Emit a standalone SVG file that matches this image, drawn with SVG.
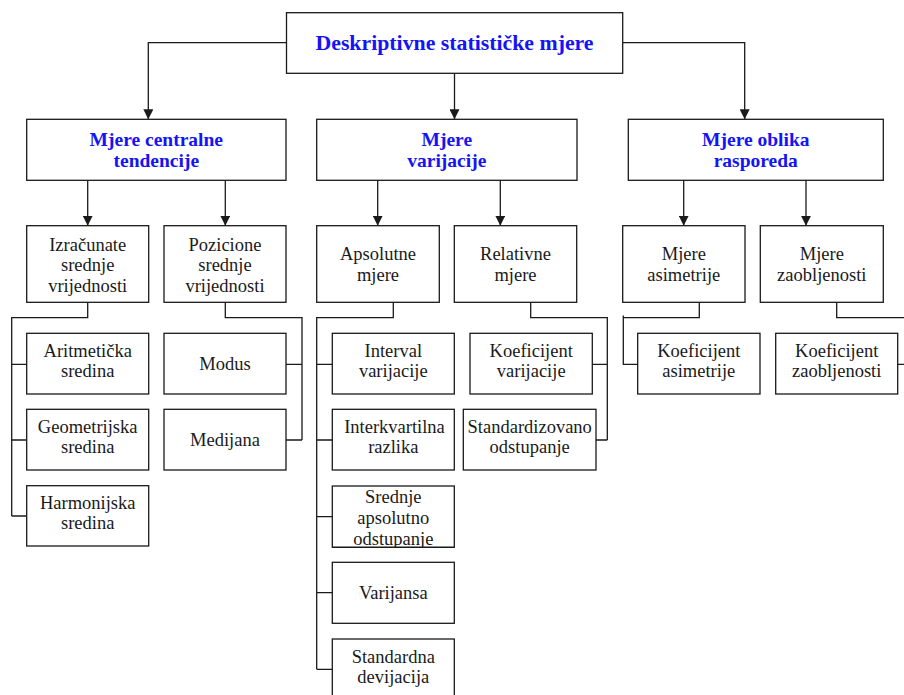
<svg xmlns="http://www.w3.org/2000/svg" width="904" height="695" viewBox="0 0 904 695">
<defs>
<style>
.b{fill:#fff;stroke:#1a1a1a;stroke-width:1.3}
.c{fill:none;stroke:#1a1a1a;stroke-width:1.3}
.h{font-family:"Liberation Serif","Times New Roman",serif;font-weight:bold;fill:#1414f5;text-anchor:middle}
.t{font-family:"Liberation Serif","Times New Roman",serif;font-size:18.5px;fill:#1a1a1a;text-anchor:middle}
</style>
<marker id="ar" viewBox="0 0 10 10" refX="10" refY="5" markerWidth="10" markerHeight="10" markerUnits="userSpaceOnUse" orient="auto">
<path d="M0,0 L10,5 L0,10 z" fill="#1a1a1a"/>
</marker>
<clipPath id="cs"><rect x="332" y="486" width="122.5" height="61"/></clipPath>
</defs>
<rect width="904" height="695" fill="#fff"/>
<g id="connectors">
<path class="c" d="M286.5,42.7 H148.3 V119.3" marker-end="url(#ar)"/>
<path class="c" d="M454.5,73.3 V119.3" marker-end="url(#ar)"/>
<path class="c" d="M622.7,42.7 H744.7 V119.3" marker-end="url(#ar)"/>
<path class="c" d="M87.7,180.3 V225.7" marker-end="url(#ar)"/>
<path class="c" d="M225.3,180.3 V225.7" marker-end="url(#ar)"/>
<path class="c" d="M377.7,180.3 V225.7" marker-end="url(#ar)"/>
<path class="c" d="M500.3,180.3 V225.7" marker-end="url(#ar)"/>
<path class="c" d="M683.7,180.3 V225.7" marker-end="url(#ar)"/>
<path class="c" d="M806,180.3 V225.7" marker-end="url(#ar)"/>
<path class="c" d="M87.7,302.3 V317.7 H11.7 V516 M11.7,364.3 H26.7 M11.7,440 H26.7 M11.7,516 H26.7"/>
<path class="c" d="M225.3,302.3 V317.7 H302 V440 M302,364.3 H286 M302,440 H286"/>
<path class="c" d="M393.3,302.3 V317.7 H316.7 V669.3 M316.7,364.3 H332.3 M316.7,440 H332.3 M316.7,516.7 H332.3 M316.7,592.7 H332.3 M316.7,669.3 H332.3"/>
<path class="c" d="M530.7,302.3 V317.7 H607.3 V440 M607.3,364.3 H592.3 M607.3,440 H596"/>
<path class="c" d="M699.3,302.3 V317.7 H623.3 M623.3,315.5 V364.3 H637.7"/>
<path class="c" d="M836.7,302.3 V317.7 H906 M897.7,364.3 H906"/>
</g>
<g id="root"><rect class="b" x="286.5" y="12.7" width="336.2" height="60.6"/><text class="h" x="454.5" y="49.5" font-size="21.8">Deskriptivne statističke mjere</text></g>
<g id="centralna"><rect class="b" x="26.7" y="119.3" width="259.3" height="61"/><text class="h" x="156.3" y="145.5" font-size="19.5">Mjere centralne</text><text class="h" x="156.3" y="166.5" font-size="19.5">tendencije</text></g>
<g id="varijacija"><rect class="b" x="316.7" y="119.3" width="260.3" height="61"/><text class="h" x="446.8" y="145.5" font-size="19.5">Mjere</text><text class="h" x="446.8" y="166.5" font-size="19.5">varijacije</text></g>
<g id="oblik"><rect class="b" x="628.3" y="119.3" width="255" height="61"/><text class="h" x="755.8" y="145.5" font-size="19.5">Mjere oblika</text><text class="h" x="755.8" y="166.5" font-size="19.5">rasporeda</text></g>
<g id="izracunate"><rect class="b" x="26.7" y="225.7" width="122" height="76.6"/><text class="t" x="87.7" y="250.7">Izračunate</text><text class="t" x="87.7" y="271.2">srednje</text><text class="t" x="87.7" y="291.7">vrijednosti</text></g>
<g id="pozicione"><rect class="b" x="164" y="225.7" width="122" height="76.6"/><text class="t" x="225" y="250.7">Pozicione</text><text class="t" x="225" y="271.2">srednje</text><text class="t" x="225" y="291.7">vrijednosti</text></g>
<g id="apsolutne"><rect class="b" x="316.7" y="225.7" width="122.6" height="76.6"/><text class="t" x="378" y="260">Apsolutne</text><text class="t" x="378" y="281">mjere</text></g>
<g id="relativne"><rect class="b" x="454.3" y="225.7" width="122.4" height="76.6"/><text class="t" x="515.5" y="260">Relativne</text><text class="t" x="515.5" y="281">mjere</text></g>
<g id="asimetrija"><rect class="b" x="622.7" y="225.7" width="122.3" height="76.6"/><text class="t" x="683.8" y="260">Mjere</text><text class="t" x="683.8" y="281">asimetrije</text></g>
<g id="zaobljenost"><rect class="b" x="760.3" y="225.7" width="123" height="76.6"/><text class="t" x="821.8" y="260">Mjere</text><text class="t" x="821.8" y="281">zaobljenosti</text></g>
<g id="aritmeticka"><rect class="b" x="26.7" y="333.3" width="122" height="60.7"/><text class="t" x="87.7" y="356.7">Aritmetička</text><text class="t" x="87.7" y="376.7">sredina</text></g>
<g id="geometrijska"><rect class="b" x="26.7" y="409.3" width="122" height="60.7"/><text class="t" x="87.7" y="433.3">Geometrijska</text><text class="t" x="87.7" y="453.3">sredina</text></g>
<g id="harmonijska"><rect class="b" x="26.7" y="485.7" width="122" height="60.3"/><text class="t" x="87.7" y="509.3">Harmonijska</text><text class="t" x="87.7" y="529.3">sredina</text></g>
<g id="modus"><rect class="b" x="164" y="333.3" width="122" height="60.7"/><text class="t" x="225" y="370">Modus</text></g>
<g id="medijana"><rect class="b" x="164" y="409.3" width="122" height="60.7"/><text class="t" x="225" y="446">Medijana</text></g>
<g id="interval"><rect class="b" x="332.3" y="333.3" width="122" height="60.7"/><text class="t" x="393.3" y="356.7">Interval</text><text class="t" x="393.3" y="376.7">varijacije</text></g>
<g id="interkvartilna"><rect class="b" x="332.3" y="409.3" width="122" height="60.7"/><text class="t" x="394.5" y="433.3">Interkvartilna</text><text class="t" x="393.3" y="453.3">razlika</text></g>
<g id="srednje-apsolutno"><rect class="b" x="332.3" y="486" width="122" height="61.3"/><g clip-path="url(#cs)"><text class="t" x="393.3" y="503.3">Srednje</text><text class="t" x="393.3" y="524.3">apsolutno</text><text class="t" x="393.3" y="544.5">odstupanje</text></g><path class="c" d="M332.3,547.3 H454.3"/></g>
<g id="varijansa"><rect class="b" x="332.3" y="562.3" width="122" height="61"/><text class="t" x="393.3" y="599.3">Varijansa</text></g>
<g id="standardna"><rect class="b" x="332.3" y="639" width="122" height="70"/><text class="t" x="393.3" y="663">Standardna</text><text class="t" x="393.3" y="683">devijacija</text></g>
<g id="koef-varijacije"><rect class="b" x="470" y="333.3" width="122.3" height="60.7"/><text class="t" x="531.2" y="356.7">Koeficijent</text><text class="t" x="531.2" y="376.7">varijacije</text></g>
<g id="standardizovano"><rect class="b" x="463.3" y="409.3" width="132.7" height="60.7"/><text class="t" x="529.7" y="433.3">Standardizovano</text><text class="t" x="529.7" y="453.3">odstupanje</text></g>
<g id="koef-asimetrije"><rect class="b" x="637.7" y="333.3" width="122.3" height="60.7"/><text class="t" x="698.8" y="356.7">Koeficijent</text><text class="t" x="698.8" y="376.7">asimetrije</text></g>
<g id="koef-zaobljenosti"><rect class="b" x="775.7" y="333.3" width="122" height="60.7"/><text class="t" x="836.7" y="356.7">Koeficijent</text><text class="t" x="836.7" y="376.7">zaobljenosti</text></g>
</svg>
